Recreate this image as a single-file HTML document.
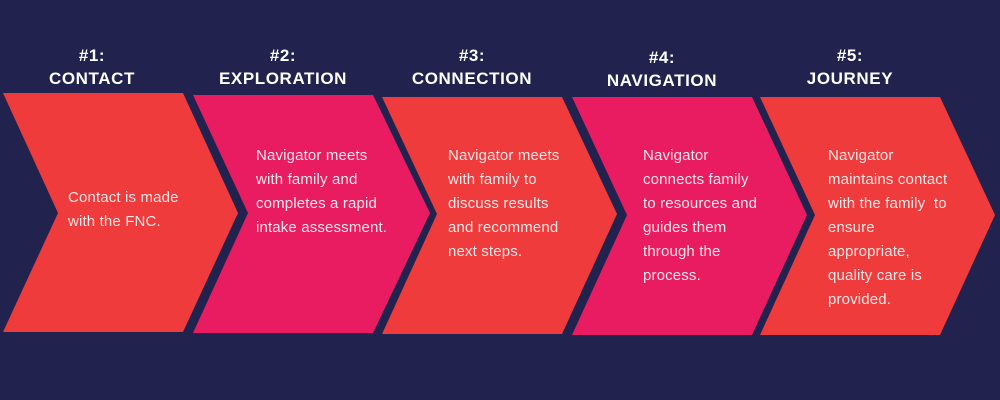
<!DOCTYPE html>
<html><head><style>
body{margin:0;width:1000px;height:400px;background:#22224f;position:relative;overflow:hidden;font-family:"Liberation Sans",sans-serif}
svg{position:absolute;left:0;top:0}
.t{position:absolute;color:#fff;font-weight:bold;font-size:17px;text-align:center;line-height:23px;width:180px;letter-spacing:0.6px}
.b{position:absolute;color:#fde6e6;font-size:15px;line-height:24px;white-space:pre;letter-spacing:0.15px}
</style></head><body>
<svg width="1000" height="400">
<polygon points="3,93 183,93 238,213 183,332 3,332 58,213" fill="#ef3b3b"/>
<polygon points="193,95 373,95 430,213 373,333 193,333 248,213" fill="#e91c62"/>
<polygon points="382,97 562,97 617,214 562,334 382,334 437,214" fill="#ef3b3b"/>
<polygon points="572,97 752,97 807,215 752,335 572,335 627,215" fill="#e91c62"/>
<polygon points="760,97 940,97 995,215 940,335 760,335 815,215" fill="#ef3b3b"/>
</svg>
<div class="t" style="left:2px;top:44px">#1:<br>CONTACT</div>
<div class="t" style="left:193px;top:44px">#2:<br>EXPLORATION</div>
<div class="t" style="left:382px;top:44px">#3:<br>CONNECTION</div>
<div class="t" style="left:572px;top:46px">#4:<br>NAVIGATION</div>
<div class="t" style="left:760px;top:44px">#5:<br>JOURNEY</div>
<div class="b" style="left:68px;top:186px">Contact is made
with the FNC.</div>
<div class="b" style="left:256px;top:144px">Navigator meets
with family and
completes a rapid
intake assessment.</div>
<div class="b" style="left:448px;top:144px">Navigator meets
with family to
discuss results
and recommend
next steps.</div>
<div class="b" style="left:643px;top:144px">Navigator
connects family
to resources and
guides them
through the
process.</div>
<div class="b" style="left:828px;top:144px">Navigator
maintains contact
with the family  to
ensure
appropriate,
quality care is
provided.</div>
</body></html>
